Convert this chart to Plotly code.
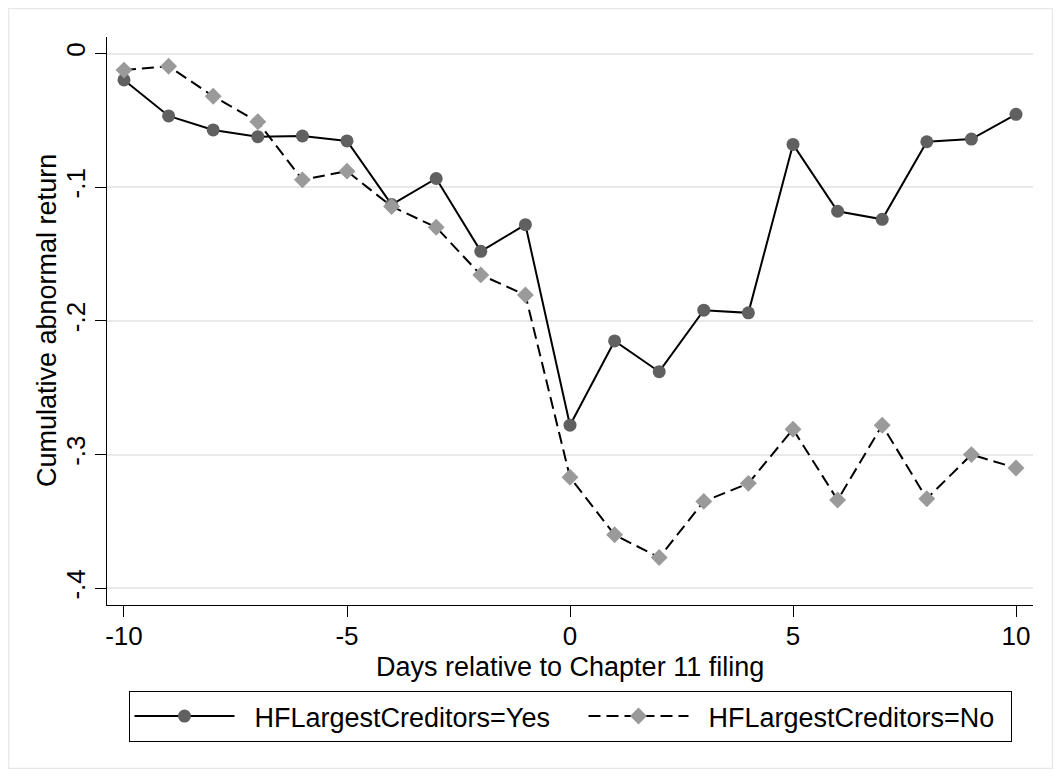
import plotly.graph_objects as go

# ---- data ----
days = list(range(-10, 11))
hf_yes = [-0.0198, -0.0467, -0.0572, -0.0622, -0.0617, -0.0654, -0.113, -0.0935, -0.148, -0.128,
          -0.278, -0.215, -0.238, -0.192, -0.194, -0.068, -0.118, -0.124, -0.066, -0.064, -0.0455]
hf_no = [-0.0124, -0.0095, -0.032, -0.051, -0.0945, -0.088, -0.1144, -0.130, -0.1656, -0.1806,
         -0.317, -0.360, -0.377, -0.335, -0.3215, -0.281, -0.334, -0.278, -0.333, -0.300, -0.310]
series_names = ["HFLargestCreditors=Yes", "HFLargestCreditors=No"]
x_tick_vals = [-10, -5, 0, 5, 10]
x_tick_labels = ["-10", "-5", "0", "5", "10"]
y_tick_vals = [0, -0.1, -0.2, -0.3, -0.4]
y_tick_labels = ["0", "-.1", "-.2", "-.3", "-.4"]
x_title = "Days relative to Chapter 11 filing"
y_title = "Cumulative abnormal return"

FONT = "Liberation Sans, Arial, sans-serif"
FS = 27
TFS = 26
OFF = 8  # page body margin
W, H = 1045, 761
L, T = 107 - OFF, 37 - OFF
R = W - (1033 - OFF)
B = H - (605 - OFF)
pw, ph = W - L - R, H - T - B


def px_x(p):
    """screen pixel x -> paper"""
    return (p - OFF - L) / pw


def px_y(p):
    """screen pixel y -> paper"""
    return (H - B - (p - OFF)) / ph


NB = "\u00a0\u00a0"

fig = go.Figure()
fig.add_trace(go.Scatter(
    x=days, y=hf_yes, name=NB + series_names[0], mode="lines+markers",
    line=dict(color="black", width=2),
    marker=dict(symbol="circle", size=13, color="#606060"),
    legendwidth=339,
))
fig.add_trace(go.Scatter(
    x=days, y=hf_no, name=NB + series_names[1], mode="lines+markers",
    line=dict(color="black", width=2, dash="12px,6px"),
    marker=dict(symbol="diamond", size=13, color="#9a9a9a"),
    legendwidth=312,
))

# outer graph-region frame
fig.add_shape(type="rect", xref="paper", yref="paper",
              x0=px_x(OFF + 0.5), x1=px_x(OFF + W - 0.5), y0=px_y(OFF + H - 0.5), y1=px_y(OFF + 0.5),
              line=dict(color="#e8e8e8", width=1.5), fillcolor="rgba(0,0,0,0)", layer="below")

# axis titles
fig.add_annotation(text=x_title, xref="paper", yref="paper", x=0.5, y=px_y(667),
                   xanchor="center", yanchor="middle", showarrow=False,
                   font=dict(family=FONT, size=FS, color="black"))
fig.add_annotation(text=y_title, xref="paper", yref="paper", x=px_x(47), y=0.5,
                   xanchor="center", yanchor="middle", showarrow=False, textangle=-90,
                   font=dict(family=FONT, size=FS, color="black"))

fig.update_layout(
    width=W, height=H,
    margin=dict(l=L, r=R, t=T, b=B, autoexpand=False),
    paper_bgcolor="white", plot_bgcolor="white",
    font=dict(family=FONT, size=FS, color="black"),
    showlegend=True,
    legend=dict(
        orientation="h", x=0.5, xanchor="center", y=px_y(691), yanchor="top",
        bordercolor="black", borderwidth=1, bgcolor="white",
        itemwidth=100, font=dict(size=FS),
        tracegroupgap=0,
    ),
    xaxis=dict(
        range=[-10.381, 10.381], tickvals=x_tick_vals, ticktext=x_tick_labels,
        tickfont=dict(size=TFS), ticklabelstandoff=-3,
        showgrid=False, zeroline=False, showline=True, linecolor="black", linewidth=1,
        ticks="outside", ticklen=11, tickwidth=1, tickcolor="black",
    ),
    yaxis=dict(
        range=[-0.4125, 0.01234], tickvals=y_tick_vals, ticktext=y_tick_labels,
        tickangle=-90, tickfont=dict(size=TFS),
        showgrid=True, gridcolor="#e9e9e9", gridwidth=2, zeroline=False,
        showline=True, linecolor="black", linewidth=1,
        ticks="outside", ticklen=11, tickwidth=1, tickcolor="black",
    ),
)

fig.write_html("out.html")
